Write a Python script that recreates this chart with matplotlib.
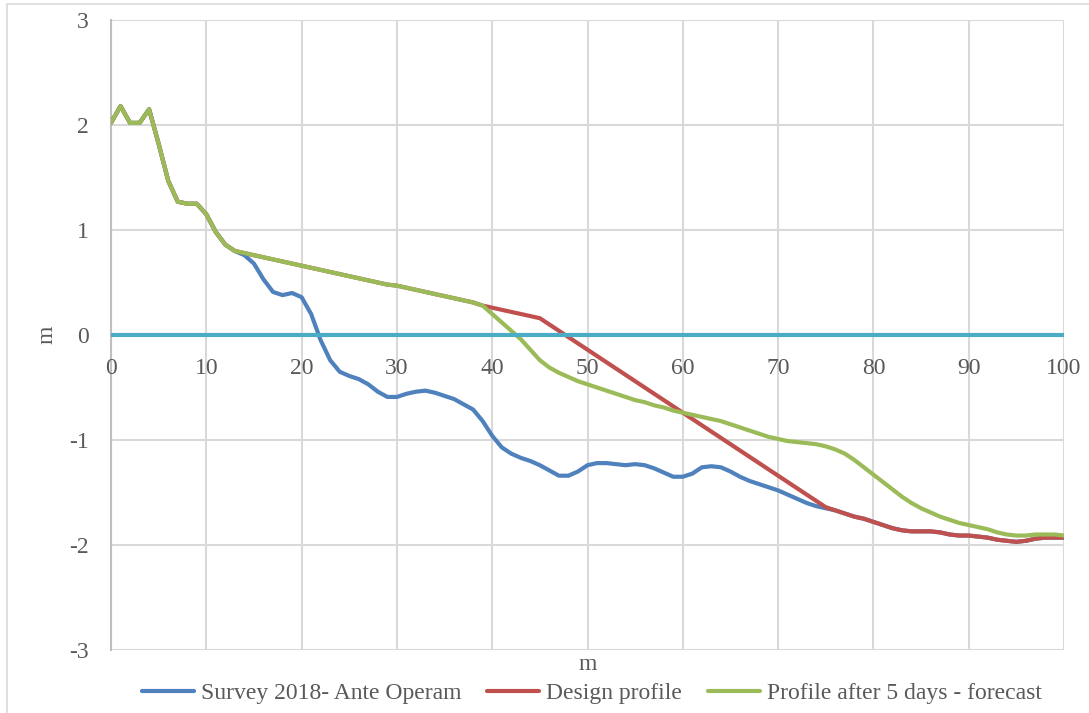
import matplotlib
matplotlib.use("Agg")
import matplotlib.pyplot as plt
from matplotlib.patches import Rectangle

# ---------------- data ----------------
x_survey = list(range(0, 101))
survey = [2.02, 2.18, 2.02, 2.02, 2.15, 1.82, 1.47, 1.27, 1.25, 1.25,
          1.15, 0.98, 0.86, 0.80, 0.76, 0.68, 0.53, 0.41, 0.38, 0.40,
          0.36, 0.20, -0.05, -0.24, -0.35, -0.39, -0.42, -0.47, -0.54, -0.59,
          -0.59, -0.56, -0.54, -0.53, -0.55, -0.58, -0.61, -0.66, -0.71, -0.82,
          -0.96, -1.07, -1.13, -1.17, -1.20, -1.24, -1.29, -1.34, -1.34, -1.30,
          -1.24, -1.22, -1.22, -1.23, -1.24, -1.23, -1.24, -1.27, -1.31, -1.35,
          -1.35, -1.32, -1.26, -1.25, -1.26, -1.30, -1.35, -1.39, -1.42, -1.45,
          -1.48, -1.52, -1.56, -1.60, -1.63, -1.65, -1.67, -1.70, -1.73, -1.75,
          -1.78, -1.81, -1.84, -1.86, -1.87, -1.87, -1.87, -1.88, -1.90, -1.91,
          -1.91, -1.92, -1.93, -1.95, -1.96, -1.97, -1.96, -1.94, -1.93, -1.93,
          -1.93]

x_design = list(range(0, 101))
design = [2.02, 2.18, 2.02, 2.02, 2.15, 1.82, 1.47, 1.27, 1.25, 1.25,
          1.15, 0.98, 0.86, 0.80, 0.78, 0.76, 0.74, 0.72, 0.70, 0.68,
          0.66, 0.64, 0.62, 0.60, 0.58, 0.56, 0.54, 0.52, 0.50, 0.48,
          0.47, 0.45, 0.43, 0.41, 0.39, 0.37, 0.35, 0.33, 0.31, 0.28,
          0.26, 0.24, 0.22, 0.20, 0.18, 0.16, 0.10, 0.04, -0.02, -0.08,
          -0.14, -0.20, -0.26, -0.32, -0.38, -0.44, -0.50, -0.56, -0.62, -0.68,
          -0.74, -0.80, -0.86, -0.92, -0.98, -1.04, -1.10, -1.16, -1.22, -1.28,
          -1.34, -1.40, -1.46, -1.52, -1.58, -1.64, -1.67, -1.70, -1.73, -1.75,
          -1.78, -1.81, -1.84, -1.86, -1.87, -1.87, -1.87, -1.88, -1.90, -1.91,
          -1.91, -1.92, -1.93, -1.95, -1.96, -1.97, -1.96, -1.94, -1.93, -1.93,
          -1.93]

x_forecast = list(range(0, 101))
forecast = [2.02, 2.18, 2.02, 2.02, 2.15, 1.82, 1.47, 1.27, 1.25, 1.25,
            1.15, 0.98, 0.86, 0.80, 0.78, 0.76, 0.74, 0.72, 0.70, 0.68,
            0.66, 0.64, 0.62, 0.60, 0.58, 0.56, 0.54, 0.52, 0.50, 0.48,
            0.47, 0.45, 0.43, 0.41, 0.39, 0.37, 0.35, 0.33, 0.31, 0.28,
            0.20, 0.12, 0.04, -0.04, -0.14, -0.24, -0.31, -0.36, -0.40, -0.44,
            -0.47, -0.50, -0.53, -0.56, -0.59, -0.62, -0.64, -0.67, -0.69, -0.72,
            -0.74, -0.76, -0.78, -0.80, -0.82, -0.85, -0.88, -0.91, -0.94, -0.97,
            -0.99, -1.01, -1.02, -1.03, -1.04, -1.06, -1.09, -1.13, -1.19, -1.26,
            -1.33, -1.40, -1.47, -1.54, -1.60, -1.65, -1.69, -1.73, -1.76, -1.79,
            -1.81, -1.83, -1.85, -1.88, -1.90, -1.91, -1.91, -1.90, -1.90, -1.90,
            -1.91]

x_zero = [0, 100]
zero_line = [0, 0]

series_labels = ["Survey 2018- Ante Operam", "Design profile",
                 "Profile after 5 days - forecast"]
x_ticks = [0, 10, 20, 30, 40, 50, 60, 70, 80, 90, 100]
y_ticks = [-3, -2, -1, 0, 1, 2, 3]
x_title = "m"
y_title = "m"

# ---------------- style ----------------
plt.rcParams['font.family'] = ['Liberation Serif', 'DejaVu Serif']
plt.rcParams['axes.unicode_minus'] = False
FS = 17
TXT = '#595959'
GRID = '#d9d9d9'

fig = plt.figure(figsize=(10.89, 7.13), dpi=100)
ax = fig.add_axes([111 / 1089, 1 - 650 / 713, (1064 - 111) / 1089, 630 / 713])

lw = 3.0
l1, = ax.plot(x_survey, survey, color='#4f81bd', lw=lw, solid_joinstyle='round',
              solid_capstyle='round', zorder=3, label=series_labels[0])
l2, = ax.plot(x_design, design, color='#c0504d', lw=lw, solid_joinstyle='round',
              solid_capstyle='round', zorder=4, label=series_labels[1])
l3, = ax.plot(x_forecast, forecast, color='#9bbb59', lw=lw, solid_joinstyle='round',
              solid_capstyle='round', zorder=5, label=series_labels[2])
ax.plot(x_zero, zero_line, color='#4bacc6', lw=lw, zorder=6, solid_capstyle='butt')

ax.set_xlim(0, 100)
ax.set_ylim(-3, 3)
ax.set_xticks(x_ticks)
ax.set_yticks(y_ticks)
ax.set_yticklabels([str(v) for v in y_ticks])
ax.grid(True, color=GRID, lw=1.5, zorder=0)
ax.set_axisbelow(True)

for s in ['top', 'right', 'bottom']:
    ax.spines[s].set_visible(False)
ax.spines['left'].set_color('#bfbfbf')
ax.spines['left'].set_linewidth(1.5)

ax.tick_params(axis='x', length=0)
ax.tick_params(axis='y', length=0, pad=16, labelsize=FS, labelcolor=TXT)

# x tick labels sit just under the zero line (Excel axis crosses at 0)
ax.set_xticklabels([])
for xv in x_ticks:
    ax.annotate(str(xv), xy=(xv, 0), xycoords='data', xytext=(0, -23),
                textcoords='offset pixels', ha='center', va='top',
                fontsize=FS, color=TXT, zorder=7, annotation_clip=False)

fig.text(47 / 1089, 1 - 335 / 713, y_title, rotation=90, ha='center', va='center',
         fontsize=FS, color=TXT)
fig.text((111 + 1064) / 2 / 1089, 1 - 665 / 713, x_title, ha='center', va='center',
         fontsize=FS, color=TXT)

leg = fig.legend(handles=[l1, l2, l3], loc='center', ncol=3,
                 bbox_to_anchor=(592 / 1089, 1 - 693 / 713), frameon=False,
                 fontsize=FS, handlelength=2.2, handletextpad=0.3,
                 columnspacing=1.1, borderpad=0)
for t in leg.get_texts():
    t.set_color(TXT)

# chart-area border (partially visible at left and top)
fig.patches.append(Rectangle((7 / 1089, -0.1), 1.2, 1.1 - 4 / 713,
                             transform=fig.transFigure, fill=False,
                             edgecolor='#d9d9d9', lw=1.2))

fig.savefig('out.png', dpi=100)
